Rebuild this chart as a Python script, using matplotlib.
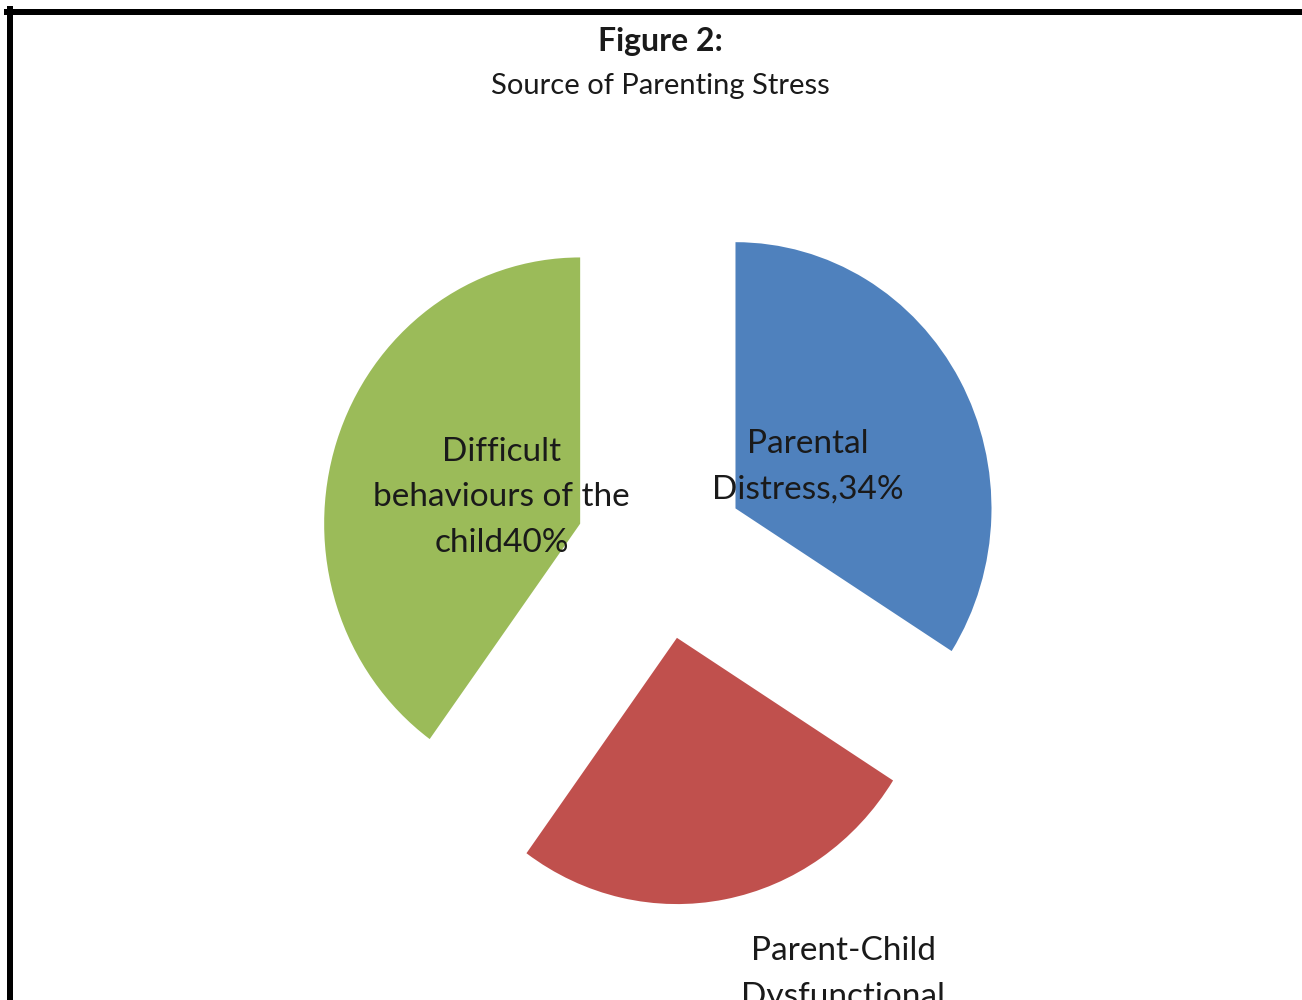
import matplotlib.pyplot as plt
import numpy as np
from matplotlib.lines import Line2D

# data
labels = ['Parental\nDistress,34%', 'Parent-Child\nDysfunctional\nInteraction,26%',
          'Difficult\nbehaviours of the\nchild40%']
shares = [34, 26, 40]
colors = ['#4F81BD', '#C0504D', '#9BBB59']

W, H = 1302, 1000
sy = 1.04  # the source picture is slightly stretched vertically
fig = plt.figure(figsize=(W / 100, H / 100), dpi=100)
ax = fig.add_axes([0, 0, 1, 1])

cx, cy = 661, (H - 551) / sy
r = 256
gap = 85  # explode distance, same units as radius

wedges, _ = ax.pie(shares, colors=colors, startangle=90, counterclock=False,
                   radius=r, center=(cx, cy), explode=[gap] * 3,
                   wedgeprops=dict(linewidth=0), frame=True)
ax.set_xlim(0, W)
ax.set_ylim(0, H / sy)
ax.set_aspect('auto')
ax.axis('off')

font = ['Lato', 'DejaVu Sans']
txt_col = '#1a1a1a'

# labels inside the blue and green slices
for i in (0, 2):
    w = wedges[i]
    mid = np.deg2rad((w.theta1 + w.theta2) / 2)
    d = 0.655 * r
    ax.text(cx + d * np.cos(mid), cy + d * np.sin(mid), labels[i],
            ha='center', va='center', fontsize=24, family=font,
            color=txt_col, linespacing=1.65)

# label of red slice sits below the pie
ax.text(cx + 182, cy - 385 / sy, labels[1], ha='center', va='top',
        fontsize=24, family=font, color=txt_col, linespacing=1.65)

fig.text(660 / W, 1 - 41 / H, 'Figure 2:', ha='center', va='center',
         fontsize=23, fontweight='bold', family=font, color=txt_col)
fig.text(660 / W, 1 - 86 / H, 'Source of Parenting Stress', ha='center',
         va='center', fontsize=21, family=font, color=txt_col)

# frame (only left and top edges visible)
lw = 6 * 72 / 100
fig.add_artist(Line2D([10 / W, 10 / W], [0, 1 - 9 / H], color='black',
                      linewidth=lw, transform=fig.transFigure))
fig.add_artist(Line2D([7 / W, 1], [1 - 12 / H, 1 - 12 / H], color='black',
                      linewidth=lw, transform=fig.transFigure))

fig.savefig('out.png', dpi=100, facecolor='white')
